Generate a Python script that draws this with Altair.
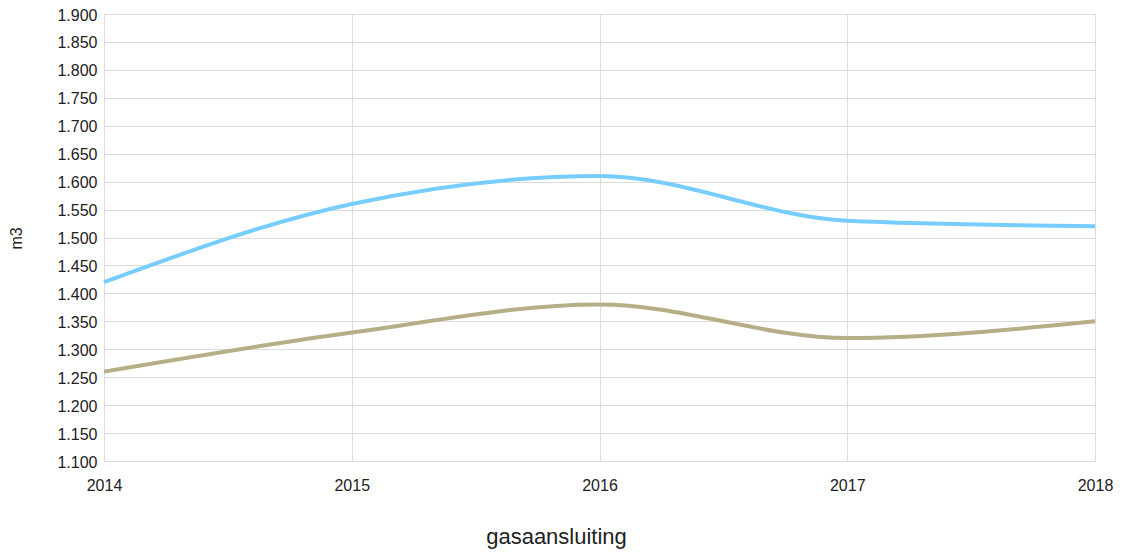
import altair as alt
import pandas as pd

years = [2014, 2015, 2016, 2017, 2018]
series_a = [1420, 1560, 1610, 1530, 1520]
series_b = [1260, 1330, 1380, 1320, 1350]
series_names = ["A", "B"]
colors = ["#78CDFF", "#B5AE87"]

rows = []
for name, vals in zip(series_names, [series_a, series_b]):
    for y, v in zip(years, vals):
        rows.append({"jaar": y, "waarde": v, "serie": name})
df = pd.DataFrame(rows)

chart = alt.Chart(df).mark_line(strokeWidth=4, interpolate="monotone").encode(
    x=alt.X("jaar:Q",
            scale=alt.Scale(domain=[2014, 2018], nice=False, zero=False),
            axis=alt.Axis(values=years, format="d", title="gasaansluiting",
                          labelFontSize=16, labelPadding=16, tickSize=0,
                          labelColor="#222222", labelFont="Liberation Sans",
                          titleFont="Liberation Sans", titleFontSize=22,
                          titleFontWeight="normal", titleColor="#222222",
                          titleX=452, titleY=82, titleAlign="center",
                          titleBaseline="alphabetic",
                          domain=False, grid=True, gridColor="#dddddd",
                          labelFlush=False)),
    y=alt.Y("waarde:Q",
            scale=alt.Scale(domain=[1100, 1900], nice=False, zero=False),
            axis=alt.Axis(values=list(range(1100, 1901, 50)),
                          labelExpr="replace(format(datum.value, ','), ',', '.')",
                          title="m3", labelFontSize=16, labelPadding=7, tickSize=0,
                          labelOffset=1,
                          labelColor="#222222", labelFont="Liberation Sans",
                          titleFont="Liberation Sans", titleFontSize=16,
                          titleFontWeight="normal", titleColor="#222222",
                          titleX=-88, titleY=224, titleAngle=-90,
                          titleBaseline="middle", titleAlign="center",
                          domain=False, grid=True, gridColor="#dddddd")),
    color=alt.Color("serie:N", scale=alt.Scale(domain=series_names, range=colors),
                    legend=None),
).properties(
    width=991, height=447,
    autosize=alt.AutoSizeParams(type="none"),
    padding={"left": 96, "top": 6, "right": 22, "bottom": 92},
).configure_view(stroke=None)

chart.save("out.html", embed_options={"renderer": "svg", "actions": False})
